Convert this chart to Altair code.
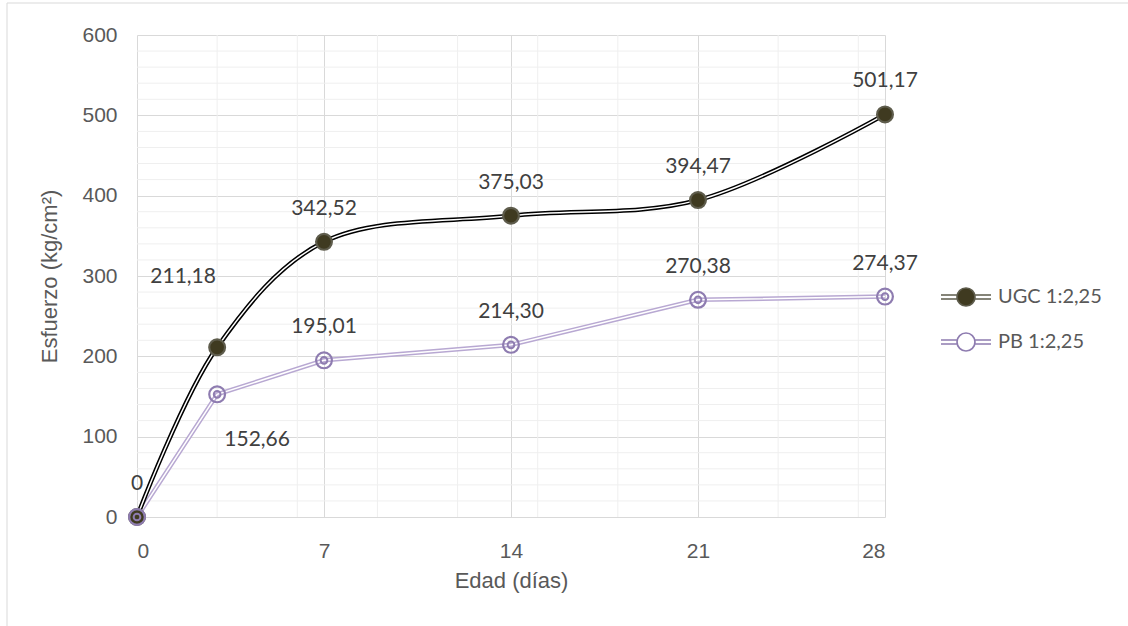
import altair as alt
import pandas as pd

# ---- data ----
dias = [0, 3, 7, 14, 21, 28]
ugc = [0, 211.18, 342.52, 375.03, 394.47, 501.17]
pb = [0, 152.66, 195.01, 214.30, 270.38, 274.37]
series = ["UGC 1:2,25", "PB 1:2,25"]
x_ticks = [0, 7, 14, 21, 28]
y_ticks = [0, 100, 200, 300, 400, 500, 600]
x_minor = [d for d in range(3, 28, 3) if d not in x_ticks]
y_minor = [v for v in range(20, 600, 20) if v not in y_ticks]


def fmt(v):
    return "0" if v == 0 else f"{v:.2f}".replace(".", ",")


rows = []
for name, vals in zip(series, [ugc, pb]):
    for i, (d, v) in enumerate(zip(dias, vals)):
        rows.append({"dia": d, "serie": name, "valor": v, "etiqueta": fmt(v), "idx": i})
df = pd.DataFrame(rows)

W, H = 748, 482
TXT = "#595959"

X = alt.X("dia:Q", scale=alt.Scale(domain=[0, 28], nice=False),
          axis=alt.Axis(values=x_ticks, title="Edad (días)", labelPadding=23,
                        titlePadding=9, labelFontSize=21, titleFontSize=22))
Y = alt.Y("valor:Q", scale=alt.Scale(domain=[0, 600], nice=False),
          axis=alt.Axis(values=y_ticks, title="Esfuerzo (kg/cm²)", labelPadding=20,
                        titlePadding=20, labelFontSize=21, titleFontSize=22))

base = alt.Chart(df)

grid_x = alt.Chart(pd.DataFrame({"dia": x_minor})).mark_rule(
    color="#efefef", strokeWidth=1).encode(x=X)
grid_y = alt.Chart(pd.DataFrame({"valor": y_minor})).mark_rule(
    color="#efefef", strokeWidth=1).encode(y=Y)

ugc_sel = alt.datum.serie == series[0]
pb_sel = alt.datum.serie == series[1]

pb_outer = base.transform_filter(pb_sel).mark_line(
    color="#b8a8d2", strokeWidth=4.5, interpolate="linear").encode(x=X, y=Y)
pb_inner = base.transform_filter(pb_sel).mark_line(
    color="white", strokeWidth=1.5, interpolate="linear").encode(x=X, y=Y)
ugc_outer = base.transform_filter(ugc_sel).mark_line(
    color="black", strokeWidth=4.5, interpolate="catmull-rom").encode(x=X, y=Y)
ugc_inner = base.transform_filter(ugc_sel).mark_line(
    color="white", strokeWidth=1.5, interpolate="catmull-rom").encode(x=X, y=Y)

legend_path = ("M-1,-0.08L-0.36,-0.08M-1,0.08L-0.36,0.08"
               "M0.36,-0.08L1,-0.08M0.36,0.08L1,0.08"
               "M0.36,0A0.36,0.36,0,1,1,-0.36,0A0.36,0.36,0,1,1,0.36,0Z")
leg = alt.Legend(title=None, orient="none", legendX=803, legendY=236,
                 symbolType=legend_path, symbolSize=2500, symbolStrokeWidth=1.7,
                 labelFont="Lato", labelFontSize=20, labelColor=TXT,
                 labelOffset=6, rowPadding=6)

rings = base.mark_point(shape="circle", size=250, strokeWidth=2.2, opacity=1).encode(
    x=X, y=Y,
    stroke=alt.Stroke("serie:N", scale=alt.Scale(domain=series, range=["#5e5c4c", "#8e7cb0"]), legend=leg),
    fill=alt.Fill("serie:N", scale=alt.Scale(domain=series, range=["#3f3a20", "transparent"]), legend=leg),
)
ugc_core = base.transform_filter(ugc_sel).mark_point(
    shape="circle", size=100, filled=True, fill="#3f3a20", stroke="white",
    strokeWidth=1.3, opacity=1).encode(x=X, y=Y)
pb_core = base.transform_filter(pb_sel).mark_point(
    shape="circle", size=45, filled=False, stroke="#8e7cb0", strokeWidth=2,
    opacity=1).encode(x=X, y=Y)

special_ugc = (alt.datum.serie == series[0]) & (alt.datum.idx == 1)
special_pb = (alt.datum.serie == series[1]) & (alt.datum.idx == 1)
hidden_pb0 = (alt.datum.serie == series[1]) & (alt.datum.idx == 0)

tstyle = dict(font="Lato", fontSize=21, color="#404040", baseline="middle")
labels_top = base.transform_filter(
    ~(special_ugc | special_pb | hidden_pb0)).mark_text(dy=-33, **tstyle).encode(
    x=X, y=Y, text="etiqueta:N")
label_ugc1 = base.transform_filter(special_ugc).mark_text(dx=-34, dy=-70, **tstyle).encode(
    x=X, y=Y, text="etiqueta:N")
label_pb1 = base.transform_filter(special_pb).mark_text(dx=40, dy=46, **tstyle).encode(
    x=X, y=Y, text="etiqueta:N")

frame = alt.Chart(pd.DataFrame({"a": [0]})).mark_rect(
    fillOpacity=0, stroke="#d9d9d9", strokeWidth=1).encode(
    x=alt.value(-130), x2=alt.value(W + 260), y=alt.value(-32), y2=alt.value(H + 130))

chart = alt.layer(
    frame, grid_x, grid_y, pb_outer, pb_inner, ugc_outer, ugc_inner,
    ugc_core, rings, pb_core, labels_top, label_ugc1, label_pb1
).properties(
    width=W, height=H,
    autosize=alt.AutoSizeParams(type="none"),
    padding={"left": 137, "top": 35, "right": 243, "bottom": 109},
    background="white",
).configure_axis(
    labelFont="Liberation Sans", titleFont="Liberation Sans",
    labelColor=TXT, titleColor=TXT, titleFontWeight="normal",
    ticks=False, domain=False, gridColor="#d9d9d9", gridWidth=1,
).configure_view(strokeWidth=0)

chart.save("out.html", embed_options={"renderer": "svg", "actions": False})
